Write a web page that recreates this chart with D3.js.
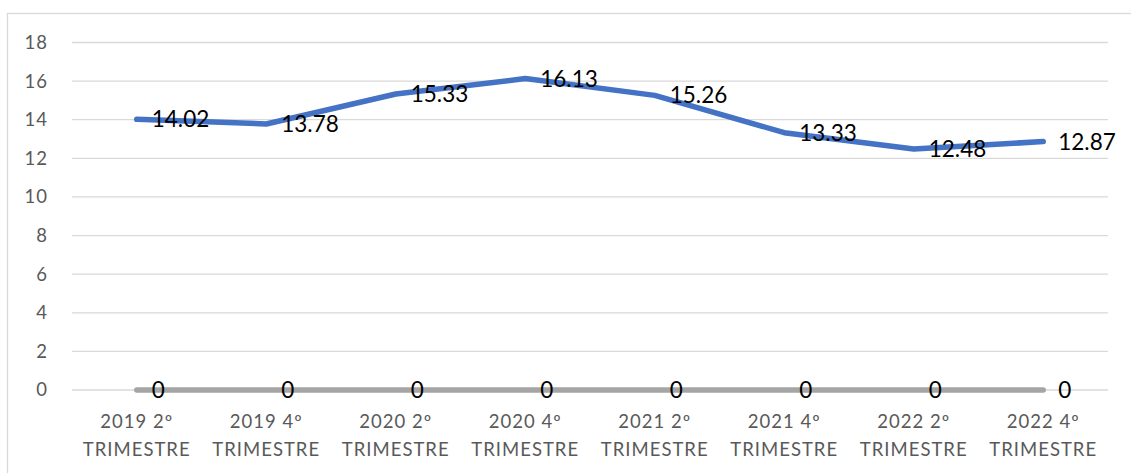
<!DOCTYPE html>
<html>
<head>
<meta charset="utf-8">
<script src="https://cdn.jsdelivr.net/npm/d3@7"></script>
<style>
  html, body { margin: 0; padding: 0; background: #fff; }
  svg { display: block; }
</style>
</head>
<body>
<svg id="chart" width="1131" height="473"></svg>
<script>
// Quarterly series
const categories = [
  ["2019 2º", "TRIMESTRE"], ["2019 4º", "TRIMESTRE"],
  ["2020 2º", "TRIMESTRE"], ["2020 4º", "TRIMESTRE"],
  ["2021 2º", "TRIMESTRE"], ["2021 4º", "TRIMESTRE"],
  ["2022 2º", "TRIMESTRE"], ["2022 4º", "TRIMESTRE"]
];
const mainValues = [14.02, 13.78, 15.33, 16.13, 15.26, 13.33, 12.48, 12.87];
const zeroValues = [0, 0, 0, 0, 0, 0, 0, 0];
const yTicks = [0, 2, 4, 6, 8, 10, 12, 14, 16, 18];

const svg = d3.select("#chart");
const W = 1131, H = 473;
const plot = { left: 72, right: 1108, top: 42.5, bottom: 390 };
const font = "Lato, 'Open Sans', sans-serif";

// chart frame
svg.append("rect")
  .attr("x", 7.5).attr("y", 13.5)
  .attr("width", W + 10).attr("height", H + 10)
  .attr("fill", "#fff").attr("stroke", "#d9d9d9").attr("stroke-width", 1.3);

const keys = categories.map((c, i) => i);
const x = d3.scaleBand().domain(keys).range([plot.left, plot.right]);
const y = d3.scaleLinear().domain([0, 18]).range([plot.bottom, plot.top]);
const cx = i => x(i) + x.bandwidth() / 2;

// horizontal gridlines
svg.append("g")
  .selectAll("line").data(yTicks).join("line")
  .attr("x1", plot.left).attr("x2", plot.right)
  .attr("y1", d => y(d)).attr("y2", d => y(d))
  .attr("stroke", "#d9d9d9").attr("stroke-width", 1.3);

// y axis labels
const yAxis = svg.append("g")
  .attr("transform", `translate(${plot.left},0)`)
  .call(d3.axisLeft(y).tickValues(yTicks).tickSize(0).tickPadding(24));
yAxis.select(".domain").remove();
yAxis.selectAll("text")
  .attr("font-family", font).attr("font-size", 18.5).attr("fill", "#595959")
  .attr("letter-spacing", "1px");

// x axis labels (two lines)
const xl = svg.append("g").selectAll("text").data(categories).join("text")
  .attr("font-family", font).attr("font-size", 18.5).attr("fill", "#595959")
  .attr("letter-spacing", "1px")
  .attr("text-anchor", "middle");
xl.each(function(d, i) {
  const t = d3.select(this);
  d.forEach((line, j) => {
    t.append("tspan").attr("x", cx(i)).attr("y", 428 + j * 28).text(line);
  });
});

const line = d3.line().x((d, i) => cx(i)).y(d => y(d));

// zero series
svg.append("path").datum(zeroValues)
  .attr("d", line).attr("fill", "none")
  .attr("stroke", "#a5a5a5").attr("stroke-width", 5.5)
  .attr("stroke-linecap", "round").attr("stroke-linejoin", "round");

// main series
svg.append("path").datum(mainValues)
  .attr("d", line).attr("fill", "none")
  .attr("stroke", "#4472c4").attr("stroke-width", 5.5)
  .attr("stroke-linecap", "round").attr("stroke-linejoin", "round");

// data labels, to the right of each point
function labels(values) {
  svg.append("g").selectAll("text").data(values).join("text")
    .attr("x", (d, i) => cx(i) + 15)
    .attr("y", d => y(d))
    .attr("dy", "0.36em")
    .attr("font-family", font).attr("font-size", 22.5).attr("fill", "#000")
    .text(d => d === 0 ? "0" : d.toFixed(2));
}
labels(zeroValues);
labels(mainValues);
</script>
</body>
</html>
